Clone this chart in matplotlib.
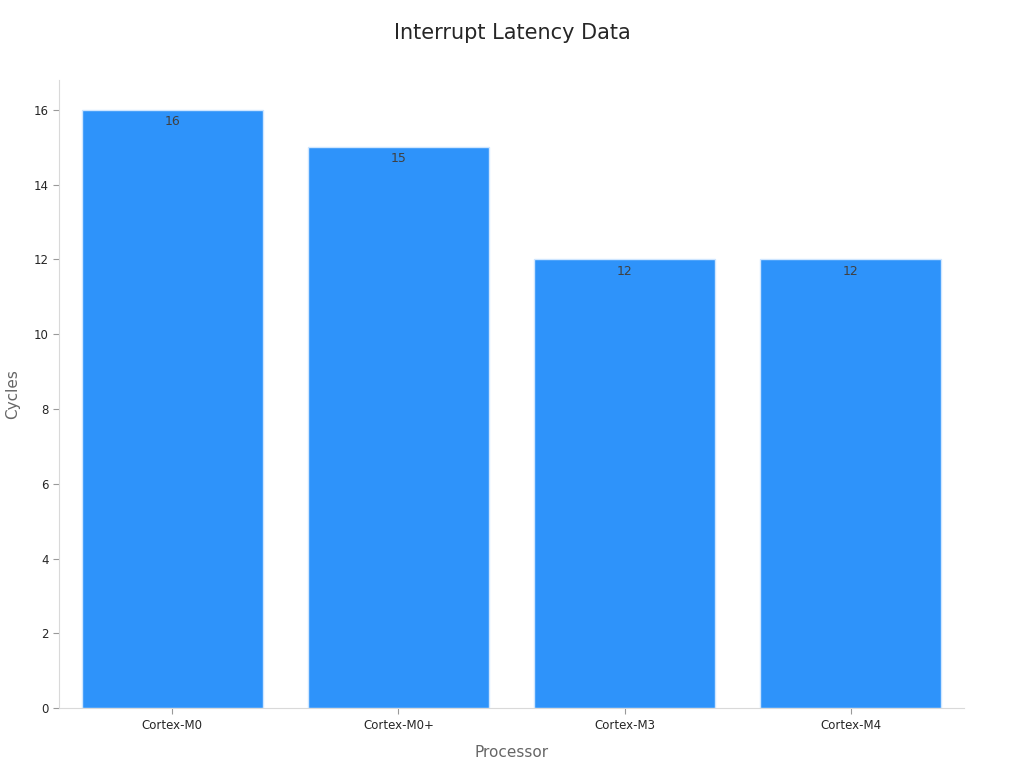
import matplotlib
matplotlib.use("Agg")
import matplotlib.pyplot as plt

# Data
processors = ["Cortex-M0", "Cortex-M0+", "Cortex-M3", "Cortex-M4"]
cycles = [16, 15, 12, 12]

bar_color = "#2E93FA"
spine_color = "#d9d9d9"

fig = plt.figure(figsize=(10.24, 7.68), dpi=100)
ax = fig.add_axes([0.0576, 0.078, 0.8838, 0.818])

x = list(range(len(processors)))
bars = ax.bar(x, cycles, width=0.8, color=bar_color, edgecolor="#cfe6ff", linewidth=1)

# value labels just inside the top of each bar
for rect, val in zip(bars, cycles):
    ax.annotate(str(val), xy=(rect.get_x() + rect.get_width() / 2, val),
                xytext=(0, -8.5), textcoords="offset points",
                ha="center", va="center", fontsize=9, color="#404040")

ax.set_xticks(x)
ax.set_xticklabels(processors)
ax.set_xlim(-0.5, len(processors) - 0.5)
ax.set_ylim(0, 16.8)
ax.set_yticks(range(0, 17, 2))

ax.tick_params(axis="both", labelsize=8.5, colors="#262626", length=4)
ax.tick_params(axis="both", color="#999999")

for side in ["top", "right"]:
    ax.spines[side].set_visible(False)
for side in ["left", "bottom"]:
    ax.spines[side].set_color(spine_color)

ax.set_xlabel("Processor", fontsize=11, color="#666666", labelpad=10)
ax.set_ylabel("Cycles", fontsize=11, color="#666666", labelpad=10)
fig.suptitle("Interrupt Latency Data", fontsize=15, color="#262626", y=0.97)

fig.savefig("out.png", dpi=100)
